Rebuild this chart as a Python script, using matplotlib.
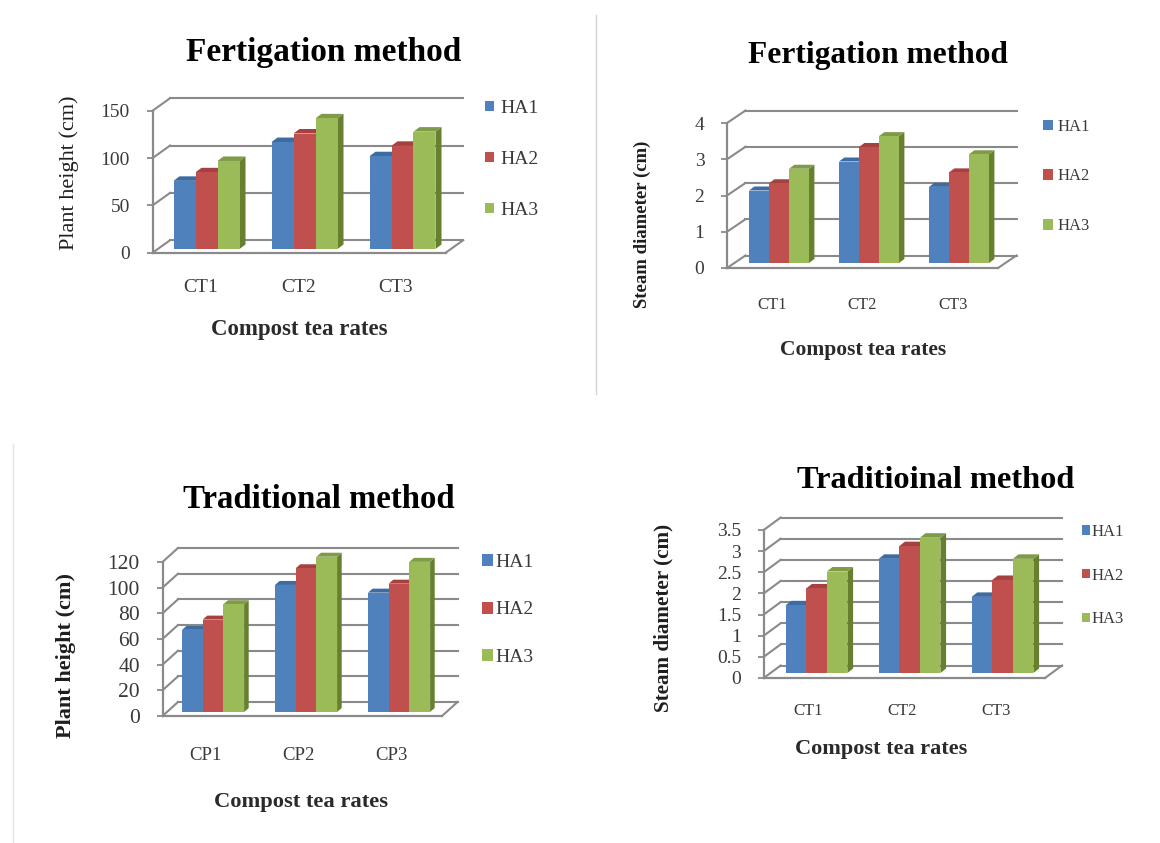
import matplotlib
matplotlib.use("Agg")
import matplotlib.pyplot as plt
from matplotlib.lines import Line2D
from matplotlib.patches import Polygon

plt.rcParams['font.family'] = ['Liberation Serif', 'DejaVu Serif']

W, H = 1160, 843
DPI = 100

series = ['HA1', 'HA2', 'HA3']
cats_ct = ['CT1', 'CT2', 'CT3']
cats_cp = ['CP1', 'CP2', 'CP3']

fert_height = [[72, 113, 98], [81, 122, 109], [93, 138, 124]]
fert_diam = [[2.0, 2.8, 2.1], [2.2, 3.2, 2.5], [2.6, 3.5, 3.0]]
trad_height = [[64, 99, 93], [72, 112, 100], [84, 121, 117]]
trad_diam = [[1.6, 2.7, 1.8], [2.0, 3.0, 2.2], [2.4, 3.2, 2.7]]

ticks_fh = [0, 50, 100, 150]
ticks_fd = [0, 1, 2, 3, 4]
ticks_th = [0, 20, 40, 60, 80, 100, 120]
ticks_td = [0, 0.5, 1, 1.5, 2, 2.5, 3, 3.5]
labels_td = ['0', '0.5', '1', '1.5', '2', '2.5', '3', '3.5']

FACE = ['#4F81BD', '#C0504D', '#9BBB59']
TOP = ['#3D6CA3', '#A5413E', '#7F9A48']
SIDE = ['#385D8A', '#8C3836', '#66802F']
GRID = '#8A8A8A'
TXT = '#3A3A3A'

panels = [
    dict(vals=fert_height, cats=cats_ct, ticks=ticks_fh, tl=[str(t) for t in ticks_fh],
         title='Fertigation method', ylabel='Plant height (cm)', yl_bold=False,
         fl=152.6, fr=445.7, bot=252.7, top=110.7, dx=17.5, dy=12.5, base=249,
         left=173.5, step=98, bw=22, sd=6, td=4.5,
         ts=24, tpos=(324, 52), xl=(299, 329), xls=16.5, yl=(69, 173), yls=16,
         ys=14, cs=14, pad=19, cshift=-1,
         lg=dict(x=484.5, y=159.5, sp=51.6, fs=14, sw=9, tx=500)),
    dict(vals=fert_diam, cats=cats_ct, ticks=ticks_fd, tl=[str(t) for t in ticks_fd],
         title='Fertigation method', ylabel='Steam diameter (cm)', yl_bold=True,
         fl=727, fr=998, bot=268, top=123, dx=18.5, dy=12.5, base=263,
         left=749, step=90, bw=20, sd=5.4, td=4,
         ts=22.6, tpos=(878, 55), xl=(863, 350), xls=15.5, yl=(642, 224), yls=13.5,
         ys=14, cs=12, pad=21, cshift=0,
         lg=dict(x=1043, y=176.5, sp=48.5, fs=12, sw=10, tx=1058)),
    dict(vals=trad_height, cats=cats_cp, ticks=ticks_th, tl=[str(t) for t in ticks_th],
         title='Traditional method', ylabel='Plant height (cm)', yl_bold=True,
         fl=162.5, fr=442, bot=716, top=562, dx=15.5, dy=14, base=712,
         left=182, step=93, bw=20.7, sd=4.6, td=4,
         ts=23.6, tpos=(319, 500), xl=(301, 802), xls=16.2, yl=(66, 656), yls=16,
         ys=15.5, cs=13.5, pad=22, cshift=-4,
         lg=dict(x=482, y=610, sp=48, fs=14, sw=11, tx=495)),
    dict(vals=trad_diam, cats=cats_ct, ticks=ticks_td, tl=labels_td,
         title='Traditioinal method', ylabel='Steam diameter (cm)', yl_bold=True,
         fl=763.7, fr=1045, bot=678, top=530, dx=17, dy=12.5, base=673,
         left=785.6, step=93, bw=20.6, sd=5.7, td=4.5,
         ts=23.3, tpos=(936, 480), xl=(881, 749), xls=16, yl=(663, 618), yls=15.2,
         ys=14, cs=12, pad=18, cshift=-2,
         lg=dict(x=1081.5, y=575.5, sp=42.5, fs=12, sw=8, tx=1092)),
]

fig = plt.figure(figsize=(W / DPI, H / DPI), dpi=DPI, facecolor='white')


def fx(px):
    return px / W


def fy(py):
    return 1 - py / H


def draw(p):
    pw, ph = p['fr'] - p['fl'], p['bot'] - p['top']
    ax = fig.add_axes([fx(p['fl']), fy(p['bot']), pw / W, ph / H])
    vmax = p['ticks'][-1]
    n = len(p['cats'])
    ax.set_xlim(0, n)
    ax.set_ylim(0, vmax)
    ax.patch.set_alpha(0)
    ux, uy = n / pw, vmax / ph  # data units per pixel
    dxb, dyb = p['dx'] * ux, p['dy'] * uy

    # back wall, side wall and floor lines
    for t in p['ticks']:
        ax.plot([dxb, n + dxb], [t + dyb, t + dyb], color=GRID, lw=1.5, clip_on=False, zorder=1)
        ax.plot([0, dxb], [t, t + dyb], color=GRID, lw=1.5, clip_on=False, zorder=1)
    ax.plot([n, n + dxb], [0, dyb], color=GRID, lw=1.5, clip_on=False, zorder=1)

    base = (p['bot'] - p['base']) * uy
    bw, sd, td = p['bw'] * ux, p['sd'] * ux, p['td'] * uy
    handles = []
    for c in range(n):
        for s, vals in enumerate(p['vals']):
            x0 = (p['left'] + c * p['step'] + s * p['bw'] - p['fl']) * ux
            v = vals[c]
            side = [(x0 + bw, base), (x0 + bw + sd, base + td), (x0 + bw + sd, base + v + td), (x0 + bw, base + v)]
            top = [(x0, base + v), (x0 + sd, base + v + td), (x0 + bw + sd, base + v + td), (x0 + bw, base + v)]
            zo = 3 + c * 3 + s * 0.3
            ax.add_patch(Polygon(side, closed=True, fc=SIDE[s], ec='none', clip_on=False, zorder=zo))
            ax.add_patch(Polygon(top, closed=True, fc=TOP[s], ec='none', clip_on=False, zorder=zo))
            b = ax.bar(x0, v, width=bw, bottom=base, align='edge', color=FACE[s],
                       clip_on=False, zorder=zo + 0.1, label=series[s] if c == 0 else None)
            if c == 0:
                handles.append(b)

    for sp in ('top', 'right'):
        ax.spines[sp].set_visible(False)
    for sp in ('left', 'bottom'):
        ax.spines[sp].set_color(GRID)
        ax.spines[sp].set_linewidth(1.6)
        ax.spines[sp].set_zorder(2)

    ax.set_yticks(p['ticks'], p['tl'], fontsize=p['ys'], color=TXT)
    ax.tick_params(axis='y', length=4.3, width=1.3, color=GRID, pad=12)
    ax.set_xticks([i + 0.5 + p['cshift'] * ux for i in range(n)], p['cats'], fontsize=p['cs'], color=TXT)
    ax.tick_params(axis='x', length=0, pad=p['pad'])

    lg = p['lg']
    fs_px = lg['fs'] * DPI / 72
    ax.legend(handles=handles, labels=series, loc='center left',
              bbox_to_anchor=(fx(lg['x']), fy(lg['y'])), bbox_transform=fig.transFigure,
              frameon=False, fontsize=lg['fs'], labelcolor=TXT, borderpad=0, borderaxespad=0,
              handlelength=lg['sw'] / fs_px, handleheight=lg['sw'] / fs_px,
              handletextpad=(lg['tx'] - lg['x'] - lg['sw']) / fs_px,
              labelspacing=(lg['sp'] - fs_px + 1.8) / fs_px)

    fig.text(fx(p['tpos'][0]), fy(p['tpos'][1]), p['title'], fontsize=p['ts'], fontweight='bold',
             ha='center', va='center', color='black')
    fig.text(fx(p['xl'][0]), fy(p['xl'][1]), 'Compost tea rates', fontsize=p['xls'], fontweight='bold',
             ha='center', va='center', color='#2A2A2A')
    fig.text(fx(p['yl'][0]), fy(p['yl'][1]), p['ylabel'], fontsize=p['yls'],
             fontweight='bold' if p['yl_bold'] else 'normal', rotation=90,
             ha='center', va='center', color='#1E1E1E')


for panel in panels:
    draw(panel)

# faint frame edges of the pasted panels
fig.add_artist(Line2D([fx(596), fx(596)], [fy(15), fy(394)], color='#D4D4D4', lw=1))
fig.add_artist(Line2D([fx(13), fx(13)], [fy(444), fy(843)], color='#E2E4F0', lw=1))

fig.savefig('out.png', dpi=DPI, facecolor='white')
